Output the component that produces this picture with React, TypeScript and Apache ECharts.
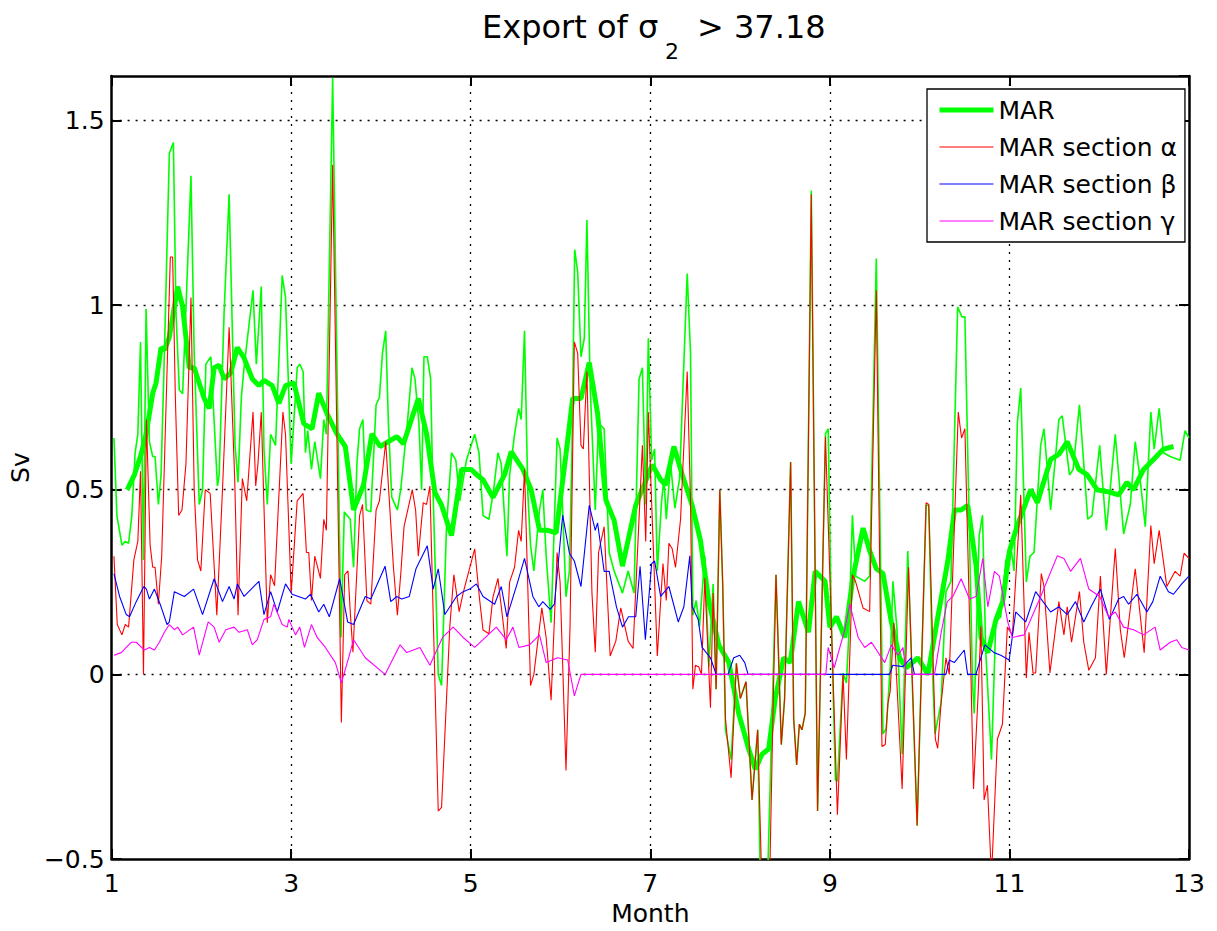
import React, { useEffect, useRef } from 'react';
import * as echarts from 'echarts';

// x = month (1..13), y = transport in Sv
const MONTH_MIN = 1;
const MONTH_MAX = 13;
const SV_MIN = -0.5;
const SV_MAX = 1.62;

const marSmooth: number[][] = [
  [1.174,0.50],[1.255,0.541],[1.329,0.596],[1.384,0.651],[1.458,0.761],[1.495,0.789],[1.551,0.885],[1.588,0.878],[1.643,0.913],[1.736,1.05],[1.791,0.995],[1.865,0.83],[1.920,0.83],[2.031,0.747],[2.087,0.72],[2.142,0.83],[2.198,0.837],[2.253,0.80],[2.327,0.816],[2.401,0.885],[2.475,0.857],[2.567,0.80],[2.641,0.782],[2.697,0.796],[2.789,0.782],[2.863,0.734],[2.937,0.782],[3.030,0.789],[3.141,0.679],[3.233,0.665],[3.307,0.761],[3.399,0.706],[3.510,0.651],[3.603,0.617],[3.695,0.445],[3.806,0.513],[3.899,0.651],[3.991,0.617],[4.176,0.644],[4.250,0.624],[4.416,0.747],[4.508,0.651],[4.601,0.493],[4.675,0.458],[4.786,0.376],[4.897,0.555],[5.007,0.555],[5.063,0.541],[5.137,0.527],[5.248,0.479],[5.377,0.541],[5.451,0.603],[5.581,0.555],[5.673,0.50],[5.766,0.39],[5.858,0.39],[5.951,0.383],[6.061,0.596],[6.135,0.747],[6.228,0.747],[6.320,0.844],[6.413,0.706],[6.505,0.472],[6.597,0.417],[6.690,0.293],[6.764,0.376],[6.838,0.458],[6.931,0.513],[7.022,0.568],[7.115,0.527],[7.170,0.513],[7.263,0.617],[7.355,0.541],[7.466,0.458],[7.559,0.362],[7.652,0.197],[7.763,0.08],[7.874,0.032],[7.985,-0.106],[8.096,-0.202],[8.170,-0.257],[8.244,-0.216],[8.318,-0.202],[8.392,-0.065],[8.485,0.045],[8.559,0.032],[8.651,0.197],[8.762,0.114],[8.836,0.279],[8.947,0.252],[9.000,0.128],[9.074,0.156],[9.166,0.10],[9.259,0.266],[9.370,0.396],[9.444,0.334],[9.518,0.286],[9.592,0.273],[9.685,0.142],[9.777,0.045],[9.851,0.018],[9.981,0.045],[10.092,0.0],[10.203,0.156],[10.314,0.307],[10.388,0.445],[10.462,0.445],[10.536,0.458],[10.629,0.293],[10.684,0.10],[10.759,0.059],[10.851,0.149],[10.925,0.197],[11.0,0.334],[11.088,0.403],[11.237,0.50],[11.311,0.465],[11.459,0.582],[11.551,0.596],[11.644,0.63],[11.773,0.555],[11.865,0.541],[11.976,0.50],[12.124,0.493],[12.216,0.486],[12.309,0.52],[12.383,0.50],[12.494,0.555],[12.605,0.582],[12.716,0.61],[12.827,0.617]
];

const marRaw: number[][] = [
  [1.026,0.64],[1.059,0.43],[1.115,0.35],[1.152,0.36],[1.189,0.355],[1.225,0.43],[1.262,0.60],[1.292,0.65],[1.322,0.90],[1.355,0.31],[1.384,0.99],[1.421,0.63],[1.458,0.59],[1.484,0.59],[1.521,0.46],[1.551,0.54],[1.588,0.87],[1.643,1.41],[1.688,1.44],[1.717,0.98],[1.754,0.77],[1.791,0.76],[1.828,0.99],[1.884,1.35],[1.920,0.87],[1.976,0.46],[2.013,0.50],[2.050,0.84],[2.105,0.86],[2.179,0.51],[2.198,0.54],[2.253,0.98],[2.309,1.30],[2.375,0.62],[2.408,0.52],[2.445,0.75],[2.475,0.83],[2.575,1.04],[2.612,0.84],[2.667,1.05],[2.697,0.61],[2.734,0.46],[2.771,0.65],[2.826,0.62],[2.900,1.08],[2.937,1.02],
  [3.0,0.57],[3.067,0.83],[3.096,0.84],[3.133,0.82],[3.159,0.60],[3.185,0.66],[3.226,0.555],[3.263,0.63],[3.326,0.53],[3.363,0.69],[3.392,0.65],[3.462,1.615],[3.555,0.10],[3.592,0.44],[3.658,0.42],[3.695,0.29],[3.732,0.57],[3.762,0.665],[3.799,0.69],[3.836,0.445],[3.887,0.44],[3.946,0.73],[3.983,0.75],[4.017,0.87],[4.053,0.93],[4.083,0.68],[4.120,0.48],[4.183,0.445],[4.220,0.50],[4.294,0.68],[4.346,0.83],[4.379,0.80],[4.423,0.68],[4.453,0.50],[4.479,0.86],[4.516,0.86],[4.553,0.80],[4.575,0.54],[4.638,0.0],[4.675,-0.03],[4.730,0.40],[4.786,0.60],[4.834,0.58],[4.878,0.47],[4.952,0.58],
  [5.044,0.65],[5.092,0.60],[5.137,0.43],[5.203,0.42],[5.255,0.50],[5.303,0.60],[5.340,0.57],[5.403,0.32],[5.433,0.54],[5.488,0.65],[5.533,0.72],[5.562,0.69],[5.599,0.93],[5.636,0.49],[5.666,0.35],[5.703,0.28],[5.766,0.445],[5.803,0.50],[5.840,0.32],[5.895,0.14],[5.962,0.64],[5.995,0.61],[6.024,0.445],[6.061,0.21],[6.099,0.28],[6.128,0.62],[6.158,1.15],[6.191,1.09],[6.228,0.86],[6.265,0.91],[6.294,1.23],[6.331,0.775],[6.387,0.445],[6.424,0.68],[6.486,0.665],[6.542,0.33],[6.597,0.28],[6.690,0.22],[6.753,0.28],[6.819,0.22],[6.875,0.80],[6.912,0.83],[6.949,0.46],[6.978,0.91],
  [7.015,0.58],[7.048,0.61],[7.078,0.28],[7.126,0.47],[7.152,0.53],[7.178,0.42],[7.226,0.57],[7.274,0.45],[7.326,0.53],[7.411,1.085],[7.448,0.87],[7.474,0.16],[7.511,0.20],[7.548,0.13],[7.607,0.32],[7.652,0.02],[7.700,0.245],[7.733,-0.04],[7.774,0.50],[7.807,0.24],[7.837,-0.15],[7.900,-0.23],[7.959,0.03],[8.003,-0.065],[8.066,-0.02],[8.133,-0.34],[8.196,-0.15],[8.225,-0.55],[8.307,-0.55],[8.355,-0.12],[8.400,0.27],[8.459,-0.19],[8.496,-0.065],[8.563,0.575],[8.597,-0.12],[8.630,-0.245],[8.660,-0.135],[8.689,-0.15],[8.726,-0.105],[8.793,1.31],[8.863,-0.37],
  [8.951,0.651],[8.981,0.665],[9.018,0.128],[9.062,-0.285],[9.084,-0.29],[9.147,0.004],[9.184,-0.023],[9.210,0.10],[9.251,0.431],[9.288,0.266],[9.388,0.252],[9.443,0.266],[9.517,1.126],[9.591,-0.161],[9.628,-0.147],[9.672,0.018],[9.702,0.252],[9.746,0.128],[9.805,-0.216],[9.868,0.334],[9.916,-0.01],[9.972,-0.409],[10.016,-0.023],[10.072,0.458],[10.101,0.458],[10.146,-0.01],[10.171,-0.161],[10.238,-0.078],[10.293,0.224],[10.349,0.252],[10.423,0.995],[10.471,0.968],[10.504,0.968],[10.589,-0.023],[10.608,-0.106],[10.663,0.376],[10.700,0.431],[10.737,0.059],[10.800,-0.23],[10.848,0.142],[10.903,0.156],[10.959,0.307],[11.014,0.348],
  [11.052,0.28],[11.088,0.68],[11.126,0.775],[11.188,0.25],[11.229,0.32],[11.274,0.33],[11.348,0.62],[11.385,0.665],[11.459,0.445],[11.551,0.69],[11.588,0.70],[11.669,0.54],[11.710,0.555],[11.780,0.73],[11.828,0.57],[11.872,0.42],[11.920,0.43],[12.005,0.62],[12.079,0.39],[12.179,0.65],[12.272,0.38],[12.346,0.46],[12.401,0.63],[12.450,0.54],[12.513,0.40],[12.575,0.71],[12.612,0.61],[12.668,0.72],[12.716,0.60],[12.790,0.59],[12.901,0.58],[12.956,0.66],[13.0,0.64]
];

const sectionAlpha: number[][] = [
  [1.026,0.32],[1.063,0.135],[1.115,0.107],[1.152,0.135],[1.189,0.128],[1.248,0.31],[1.292,0.36],[1.322,0.55],[1.355,0.0],[1.388,0.69],[1.429,0.35],[1.458,0.29],[1.484,0.29],[1.521,0.19],[1.558,0.32],[1.588,0.57],[1.654,1.13],[1.680,1.13],[1.710,0.75],[1.747,0.43],[1.784,0.445],[1.828,0.57],[1.884,1.02],[1.920,0.50],[1.957,0.31],[1.994,0.28],[2.043,0.50],[2.098,0.49],[2.172,0.16],[2.235,0.50],[2.309,0.94],[2.371,0.53],[2.408,0.16],[2.456,0.53],[2.505,0.47],[2.575,0.71],[2.605,0.51],[2.630,0.57],[2.667,0.71],[2.734,0.14],[2.771,0.27],[2.815,0.24],[2.908,0.71],[2.937,0.65],
  [3.0,0.22],[3.067,0.47],[3.133,0.49],[3.170,0.33],[3.196,0.33],[3.226,0.20],[3.263,0.32],[3.326,0.26],[3.363,0.42],[3.392,0.39],[3.462,1.38],[3.559,-0.13],[3.596,0.27],[3.633,0.28],[3.658,0.17],[3.688,0.06],[3.762,0.43],[3.795,0.46],[3.843,0.20],[3.887,0.19],[3.946,0.445],[3.983,0.47],[4.053,0.63],[4.139,0.29],[4.183,0.16],[4.220,0.27],[4.257,0.40],[4.349,0.50],[4.386,0.445],[4.416,0.32],[4.471,0.465],[4.508,0.46],[4.545,0.51],[4.638,-0.37],[4.675,-0.36],[4.767,0.13],[4.812,0.27],[4.871,0.17],[4.915,0.22],
  [5.044,0.34],[5.100,0.20],[5.137,0.12],[5.203,0.11],[5.248,0.21],[5.303,0.26],[5.395,0.07],[5.433,0.25],[5.488,0.29],[5.533,0.39],[5.562,0.36],[5.599,0.555],[5.666,-0.03],[5.703,0.0],[5.792,0.18],[5.840,0.10],[5.895,-0.07],[5.962,0.33],[5.995,0.25],[6.061,-0.26],[6.106,0.13],[6.154,0.90],[6.191,0.87],[6.228,0.62],[6.254,0.61],[6.294,0.82],[6.350,0.22],[6.387,0.06],[6.424,0.33],[6.486,0.40],[6.553,0.05],[6.616,0.09],[6.671,0.18],[6.753,0.09],[6.808,0.07],[6.912,0.62],[6.949,0.36],[6.978,0.71],
  [7.078,0.05],[7.141,0.30],[7.178,0.20],[7.207,0.355],[7.244,0.34],[7.281,0.29],[7.337,0.42],[7.411,0.82],[7.448,0.47],[7.474,-0.04],[7.503,0.025],[7.540,0.02],[7.570,0.0],[7.607,0.26],[7.670,-0.09],[7.700,0.22],[7.733,-0.04],[7.774,0.50],[7.807,0.24],[7.837,-0.12],[7.900,-0.28],[7.959,0.03],[8.003,-0.065],[8.066,-0.02],[8.133,-0.34],[8.196,-0.15],[8.240,-0.55],[8.330,-0.55],[8.365,-0.12],[8.400,0.27],[8.459,-0.19],[8.496,-0.065],[8.563,0.575],[8.597,-0.12],[8.630,-0.245],[8.660,-0.135],[8.689,-0.15],[8.726,-0.105],[8.793,1.30],[8.863,-0.37],
  [8.951,0.644],[9.084,-0.38],[9.147,0.0],[9.184,-0.23],[9.251,0.27],[9.288,0.25],[9.369,0.18],[9.443,0.17],[9.517,1.04],[9.580,-0.195],[9.617,-0.19],[9.646,-0.08],[9.672,-0.045],[9.713,0.14],[9.805,-0.31],[9.876,0.29],[9.916,0.0],[9.972,-0.41],[10.016,-0.02],[10.072,0.465],[10.101,0.46],[10.175,-0.175],[10.201,-0.20],[10.238,-0.08],[10.293,0.045],[10.330,0.0],[10.430,0.71],[10.467,0.64],[10.504,0.665],[10.571,0.0],[10.600,-0.31],[10.652,-0.05],[10.682,0.13],[10.718,-0.34],[10.755,-0.30],[10.800,-0.55],[10.866,-0.175],[10.922,-0.135],[10.977,0.128],
  [11.033,0.107],[11.126,0.486],[11.188,-0.01],[11.218,0.114],[11.263,0.004],[11.292,0.004],[11.355,0.273],[11.385,0.238],[11.451,0.004],[11.551,0.197],[11.607,0.107],[11.644,0.183],[11.692,0.087],[11.780,0.224],[11.828,0.087],[11.884,0.011],[11.958,0.045],[12.013,0.266],[12.079,0.0],[12.179,0.341],[12.235,0.121],[12.279,0.045],[12.401,0.286],[12.501,0.059],[12.575,0.403],[12.612,0.30],[12.668,0.39],[12.753,0.238],[12.845,0.279],[12.901,0.266],[12.945,0.328],[13.0,0.314]
];

const sectionBeta: number[][] = [
  [1.026,0.273],[1.089,0.211],[1.163,0.162],[1.2,0.156],[1.274,0.197],[1.359,0.238],[1.388,0.231],[1.421,0.204],[1.477,0.231],[1.551,0.183],[1.617,0.135],[1.643,0.142],[1.699,0.224],[1.810,0.211],[1.913,0.231],[2.013,0.162],[2.142,0.259],[2.235,0.197],[2.309,0.238],[2.364,0.204],[2.401,0.245],[2.475,0.211],[2.641,0.252],[2.697,0.162],[2.771,0.224],[2.845,0.169],[2.937,0.245],[3.011,0.217],[3.159,0.204],[3.215,0.217],[3.307,0.169],[3.363,0.19],[3.425,0.156],[3.540,0.259],[3.629,0.142],[3.695,0.135],[3.825,0.211],[3.887,0.204],[4.046,0.293],[4.109,0.197],[4.176,0.211],[4.231,0.204],[4.316,0.211],[4.390,0.286],[4.516,0.348],[4.582,0.231],[4.638,0.286],[4.712,0.162],[4.841,0.211],[4.915,0.224],[4.989,0.231],[5.063,0.245],[5.137,0.211],[5.266,0.19],[5.340,0.238],[5.403,0.156],[5.525,0.252],[5.599,0.314],[5.692,0.211],[5.758,0.183],[5.803,0.197],[5.884,0.176],[5.932,0.19],[6.024,0.431],[6.099,0.328],[6.154,0.307],[6.228,0.238],[6.320,0.458],[6.387,0.39],[6.413,0.41],[6.486,0.279],[6.542,0.279],[6.623,0.183],[6.690,0.128],[6.757,0.156],[6.838,0.156],[6.886,0.293],[6.945,0.094],[7.015,0.30],[7.048,0.307],[7.115,0.211],[7.207,0.238],[7.311,0.142],[7.374,0.183],[7.440,0.321],[7.466,0.183],[7.533,0.149],[7.577,0.073],[7.670,0.045],[7.733,0.0],[7.866,0.0],[7.929,0.045],[7.996,0.052],[8.052,0.032],[8.089,0.0],[9.665,0.0],[9.702,0.025],[9.813,0.021],[9.905,0.045],[9.942,0.0],[10.293,0.0],[10.330,0.039],[10.386,0.032],[10.497,0.066],[10.534,0.0],[10.626,0.0],[10.726,0.08],[10.829,0.059],[10.903,0.052],[10.997,0.039],[11.070,0.169],[11.181,0.142],[11.292,0.224],[11.459,0.169],[11.551,0.183],[11.644,0.162],[11.736,0.197],[11.828,0.142],[11.909,0.183],[12.013,0.231],[12.113,0.149],[12.216,0.204],[12.272,0.211],[12.327,0.19],[12.420,0.217],[12.531,0.169],[12.597,0.197],[12.679,0.266],[12.771,0.224],[12.827,0.217],[12.919,0.245],[13.0,0.266]
];

const sectionGamma: number[][] = [
  [1.026,0.052],[1.107,0.059],[1.218,0.087],[1.274,0.087],[1.366,0.066],[1.421,0.073],[1.477,0.066],[1.532,0.087],[1.588,0.114],[1.643,0.135],[1.699,0.121],[1.736,0.128],[1.791,0.107],[1.913,0.128],[1.976,0.052],[2.076,0.142],[2.142,0.128],[2.198,0.087],[2.272,0.121],[2.364,0.128],[2.419,0.114],[2.512,0.121],[2.567,0.08],[2.623,0.094],[2.697,0.149],[2.771,0.156],[2.808,0.19],[2.900,0.135],[2.956,0.128],[2.974,0.149],[3.048,0.107],[3.096,0.128],[3.148,0.073],[3.226,0.135],[3.289,0.10],[3.381,0.073],[3.492,0.032],[3.559,-0.023],[3.640,0.045],[3.695,0.094],[3.825,0.045],[4.046,0.0],[4.213,0.08],[4.287,0.059],[4.434,0.073],[4.545,0.025],[4.686,0.10],[4.804,0.128],[4.915,0.10],[5.044,0.073],[5.137,0.094],[5.285,0.128],[5.395,0.094],[5.470,0.128],[5.536,0.073],[5.655,0.08],[5.766,0.107],[5.840,0.032],[5.969,0.045],[6.080,0.039],[6.154,-0.058],[6.228,0.0],[8.955,0.0],[8.981,0.073],[9.048,0.018],[9.166,0.121],[9.222,0.19],[9.315,0.10],[9.389,0.073],[9.463,0.087],[9.611,0.032],[9.685,0.08],[9.759,0.052],[9.814,0.073],[9.851,0.0],[10.166,0.0],[10.240,0.114],[10.307,0.197],[10.370,0.211],[10.462,0.259],[10.555,0.204],[10.629,0.211],[10.703,0.314],[10.759,0.183],[10.833,0.279],[10.888,0.266],[10.981,0.142],[11.033,0.10],[11.163,0.107],[11.348,0.211],[11.533,0.321],[11.607,0.314],[11.681,0.279],[11.791,0.314],[11.884,0.231],[12.005,0.211],[12.105,0.156],[12.179,0.169],[12.272,0.128],[12.383,0.121],[12.494,0.107],[12.623,0.128],[12.679,0.066],[12.790,0.087],[12.864,0.094],[12.919,0.073],[13.0,0.066]
];

const LEGEND_NAMES = ['MAR', 'MAR section \u03b1', 'MAR section \u03b2', 'MAR section \u03b3'];
const LINE_WIDTHS = [5, 1.1, 1.1, 1.1];

export default function App() {
  const ref = useRef<HTMLDivElement>(null);
  useEffect(() => {
    if (!ref.current) return;
    const chart = echarts.init(ref.current, null, { renderer: 'svg' });
    const FONT = '"DejaVu Sans", "Liberation Sans", Arial, sans-serif';
    const dotted = { color: '#000', width: 1.3, type: [2, 6] as number[] };
    const boxLine = { color: '#000', width: 2.5 };
    const tick = { inside: true, length: 10, lineStyle: { color: '#000', width: 2 } };
    const lineBase = { type: 'line', showSymbol: false, symbol: 'none', silent: true, xAxisIndex: 0, yAxisIndex: 0 };
    chart.setOption({
      animation: false,
      backgroundColor: '#ffffff',
      textStyle: { fontFamily: FONT },
      grid: { left: 107, top: 76, right: 28, bottom: 66, containLabel: false },
      xAxis: [
        {
          type: 'value', min: MONTH_MIN, max: MONTH_MAX, interval: 2, position: 'bottom',
          name: 'Month', nameLocation: 'middle', nameGap: 39,
          nameTextStyle: { fontSize: 25, color: '#000', fontFamily: FONT },
          axisLine: { onZero: false, lineStyle: boxLine },
          axisTick: tick,
          axisLabel: { fontSize: 25, color: '#000', margin: 12, fontFamily: FONT },
          splitLine: { show: true, showMinLine: false, showMaxLine: false, lineStyle: dotted },
        },
        {
          type: 'value', min: MONTH_MIN, max: MONTH_MAX, interval: 2, position: 'top',
          axisLine: { onZero: false, lineStyle: boxLine },
          axisTick: tick,
          axisLabel: { show: false },
          splitLine: { show: false },
        },
      ],
      yAxis: [
        {
          type: 'value', min: SV_MIN, max: SV_MAX, interval: 0.5, position: 'left',
          name: 'Sv', nameLocation: 'middle', nameGap: 70,
          nameTextStyle: { fontSize: 25, color: '#000', fontFamily: FONT },
          axisLine: { onZero: false, lineStyle: boxLine },
          axisTick: tick,
          axisLabel: {
            fontSize: 25, color: '#000', margin: 7, fontFamily: FONT, showMaxLabel: false,
            formatter: (v: number) => (Math.abs(v - SV_MAX) < 1e-6 ? '' : String(+v.toFixed(2)).replace('-', '\u2212')),
          },
          splitLine: { show: true, showMinLine: false, showMaxLine: false, lineStyle: dotted },
        },
        {
          type: 'value', min: SV_MIN, max: SV_MAX, interval: 0.5, position: 'right',
          axisLine: { onZero: false, lineStyle: boxLine },
          axisTick: tick,
          axisLabel: { show: false },
          splitLine: { show: false },
        },
      ],
      legend: {
        show: true,
        data: LEGEND_NAMES.map((name, i) => ({ name, lineStyle: { width: LINE_WIDTHS[i] } })),
        orient: 'vertical',
        left: 927,
        top: 89,
        padding: [8, 8, 8, 10],
        itemWidth: 54,
        itemHeight: 20,
        itemGap: 11,
        selectedMode: false,
        backgroundColor: '#ffffff',
        borderColor: '#000',
        borderWidth: 1.3,
        z: 100,
        itemStyle: { opacity: 0, borderWidth: 0 },
        textStyle: { fontSize: 25, color: '#000', fontFamily: FONT, lineHeight: 26 },
      },
      graphic: [
        { type: 'text', x: 482, y: 27, style: { text: 'Export of \u03c3', fontSize: 32, fontFamily: FONT, fill: '#000', align: 'left', verticalAlign: 'middle' } },
        { type: 'text', x: 665, y: 51, style: { text: '2', fontSize: 22, fontFamily: FONT, fill: '#000', align: 'left', verticalAlign: 'middle' } },
        { type: 'text', x: 697, y: 27, style: { text: '> 37.18', fontSize: 32, fontFamily: FONT, fill: '#000', align: 'left', verticalAlign: 'middle' } },
      ],
      series: [
        { ...lineBase, name: 'MAR raw', data: marRaw, lineStyle: { color: '#00ff00', width: 1.6 }, itemStyle: { color: '#00ff00' }, z: 2 },
        { ...lineBase, name: LEGEND_NAMES[0], data: marSmooth, lineStyle: { color: '#00ff00', width: LINE_WIDTHS[0] }, itemStyle: { color: '#00ff00' }, z: 3 },
        { ...lineBase, name: LEGEND_NAMES[1], data: sectionAlpha, lineStyle: { color: '#ff0000', width: LINE_WIDTHS[1] }, itemStyle: { color: '#ff0000' }, z: 4 },
        { ...lineBase, name: LEGEND_NAMES[2], data: sectionBeta, lineStyle: { color: '#0000ff', width: LINE_WIDTHS[2] }, itemStyle: { color: '#0000ff' }, z: 5 },
        { ...lineBase, name: LEGEND_NAMES[3], data: sectionGamma, lineStyle: { color: '#ff00ff', width: LINE_WIDTHS[3] }, itemStyle: { color: '#ff00ff' }, z: 6 },
      ],
    });
    return () => chart.dispose();
  }, []);
  return <div ref={ref} style={{ position: 'fixed', left: 0, top: 0, width: 1217, height: 931, background: '#fff' }} />;
}
